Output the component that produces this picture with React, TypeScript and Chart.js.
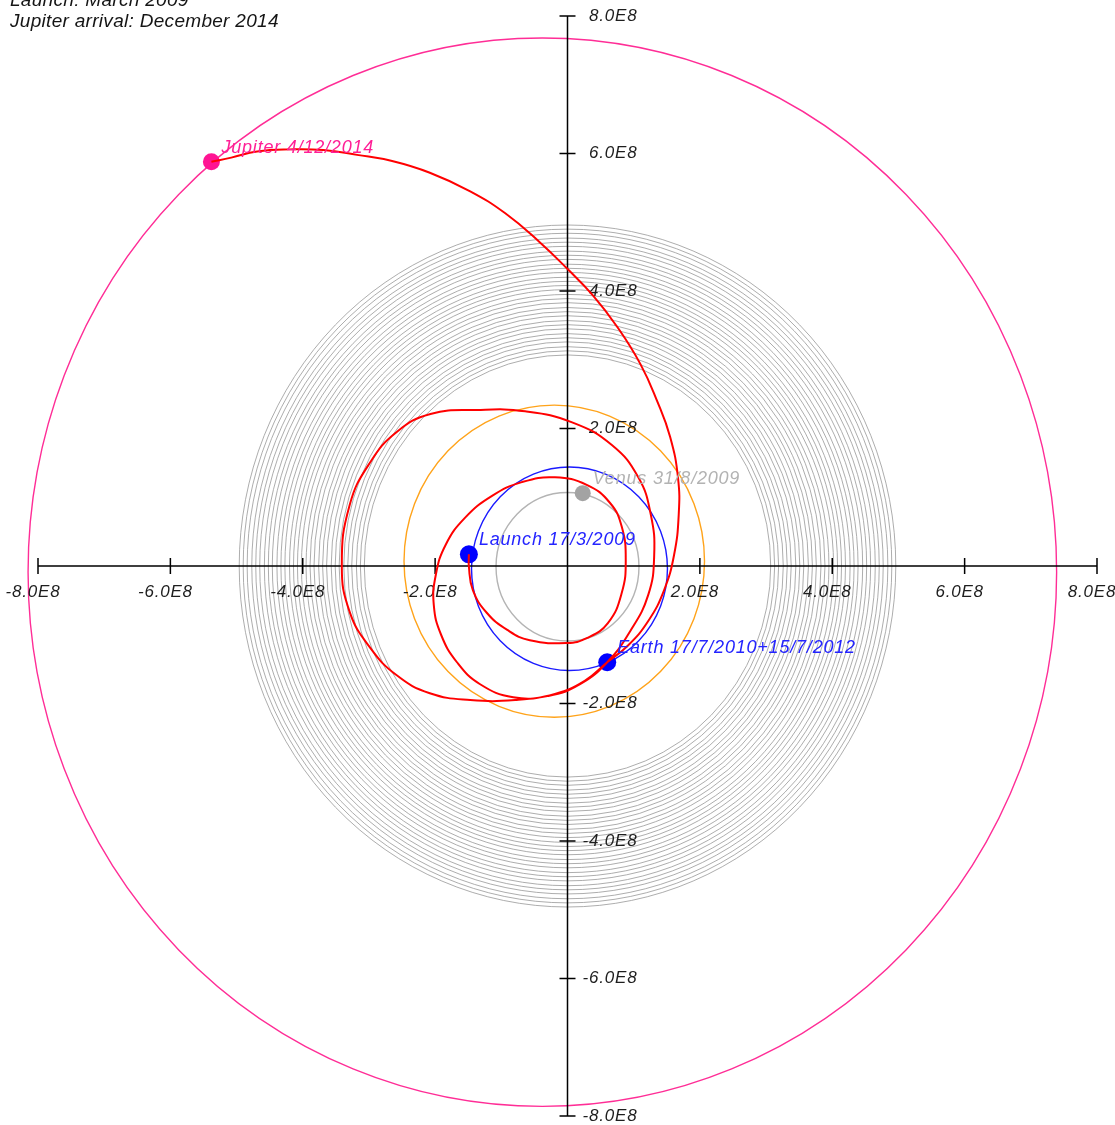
import React, { useEffect, useRef } from "react";
import { Chart, registerables } from "chart.js";

Chart.register(...registerables);

// Heliocentric positions in the ecliptic plane, units of 1e8 km.

// Spacecraft path: launch -> Venus -> Earth (2010) -> 2-year loop -> Earth (2012) -> Jupiter
const trajectoryX = [
  // launch to Venus
  -1.49, -1.49, -1.43, -1.22, -0.91, -0.57, -0.01, 0.29, 0.61, 0.82, 0.88, 0.82, 0.64, 0.29,
  // Venus to Earth
  -0.19, -0.69, -1.14, -1.55, -1.84, -1.99, -2.02, -1.91, -1.67, -1.32, -0.82, -0.29, 0.19, 0.6,
  // two-year resonant loop
  0.94, 1.22, 1.31, 1.26, 1.07, 0.67, 0.07, -0.64, -1.37, -2.07, -2.58, -2.98, -3.29, -3.41,
  -3.29, -2.98, -2.58, -2.08, -1.47, -0.79, -0.19, 0.26, 0.6,
  // Earth to Jupiter
  0.91, 1.22, 1.46, 1.61, 1.68, 1.67, 1.55, 1.35, 1.1, 0.75, 0.39, -0.01, -0.42, -0.94, -1.47,
  -2.08, -2.65, -3.18, -3.69, -4.19, -4.69, -5.08, -5.38,
];
const trajectoryY = [
  0.17, -0.01, -0.35, -0.68, -0.93, -1.08, -1.12, -1.05, -0.83, -0.39, 0.09, 0.57, 0.92, 1.18,
  1.29, 1.22, 1.02, 0.7, 0.31, -0.13, -0.57, -1.0, -1.4, -1.72, -1.91, -1.89, -1.72, -1.4,
  -0.96, -0.42, 0.16, 0.74, 1.29, 1.76, 2.09, 2.25, 2.27, 2.21, 1.95, 1.51, 0.89, 0.01,
  -0.67, -1.19, -1.59, -1.85, -1.95, -1.95, -1.86, -1.67, -1.4,
  -1.16, -0.8, -0.35, 0.16, 0.74, 1.28, 1.88, 2.41, 2.94, 3.48, 3.93, 4.33, 4.71, 5.13, 5.45,
  5.72, 5.89, 5.98, 6.05, 6.06, 6.03, 5.94, 5.88,
];

// Mission events
const eventNames = ["Launch 17/3/2009", "Venus 31/8/2009", "Earth 17/7/2010+15/7/2012", "Jupiter 4/12/2014"];
const eventX = [-1.49, 0.23, 0.6, -5.38];
const eventY = [0.17, 1.06, -1.4, 5.88];
const eventColors = ["#0000ff", "#a3a3a3", "#0000ff", "#ff1493"];
const eventLabelColors = ["#2424ff", "#b3b3b3", "#2424ff", "#ff1f96"];
const eventDotRadius = [9, 8, 9, 8.5];

// Planetary orbits
const orbitNames = ["Venus", "Earth", "Mars", "Jupiter"];
const orbitCenterX = [0, 0.03, -0.2, -0.38];
const orbitCenterY = [-0.01, -0.04, 0.07, -0.09];
const orbitRadius = [1.08, 1.48, 2.27, 7.77];
const orbitColors = ["#b4b4b4", "#1a1aff", "#ffa31a", "#ff2d96"];

// Asteroid belt rings
const beltRadii = [
  3.07, 3.13, 3.19, 3.26, 3.32, 3.38, 3.45, 3.51, 3.57, 3.64, 3.7, 3.76, 3.83, 3.89, 3.95, 4.02,
  4.08, 4.14, 4.2, 4.27, 4.33, 4.39, 4.46, 4.52, 4.58, 4.65, 4.71, 4.77, 4.84, 4.9, 4.96,
];

// Axes
const axisMin = -8;
const axisMax = 8;
const tickValues = [-8, -6, -4, -2, 2, 4, 6, 8];
const tickLabels = ["-8.0E8", "-6.0E8", "-4.0E8", "-2.0E8", "2.0E8", "4.0E8", "6.0E8", "8.0E8"];

const titleLines = ["Launch: March 2009", "Jupiter arrival: December 2014"];

const solarSystemPlugin = {
  id: "solarSystem",
  beforeDatasetsDraw(chart: any) {
    const { ctx } = chart;
    const xs = chart.scales.x;
    const ys = chart.scales.y;
    const px = (v: number) => xs.getPixelForValue(v);
    const py = (v: number) => ys.getPixelForValue(v);
    ctx.save();

    // asteroid belt
    ctx.strokeStyle = "rgba(145,145,145,0.75)";
    ctx.lineWidth = 1;
    for (const r of beltRadii) {
      ctx.beginPath();
      ctx.ellipse(px(0), py(0), px(r) - px(0), py(0) - py(r), 0, 0, Math.PI * 2);
      ctx.stroke();
    }

    // planetary orbits
    ctx.lineWidth = 1.4;
    orbitNames.forEach((_, i) => {
      const cx = px(orbitCenterX[i]);
      const cy = py(orbitCenterY[i]);
      const rx = px(orbitCenterX[i] + orbitRadius[i]) - cx;
      const ry = cy - py(orbitCenterY[i] + orbitRadius[i]);
      ctx.strokeStyle = orbitColors[i];
      ctx.beginPath();
      ctx.ellipse(cx, cy, rx, ry, 0, 0, Math.PI * 2);
      ctx.stroke();
    });

    // axes crossing at the Sun
    const x0 = px(0);
    const y0 = py(0);
    ctx.strokeStyle = "#000";
    ctx.lineWidth = 1.5;
    ctx.beginPath();
    ctx.moveTo(px(axisMin), y0);
    ctx.lineTo(px(axisMax), y0);
    ctx.moveTo(x0, py(axisMax));
    ctx.lineTo(x0, py(axisMin));
    for (const t of tickValues) {
      ctx.moveTo(px(t), y0 - 8);
      ctx.lineTo(px(t), y0 + 8);
      ctx.moveTo(x0 - 8, py(t));
      ctx.lineTo(x0 + 8, py(t));
    }
    ctx.stroke();

    ctx.font = "italic 17px 'Liberation Sans', Arial, sans-serif";
    (ctx as any).letterSpacing = "0.8px";
    ctx.fillStyle = "#1e1e1e";
    ctx.textBaseline = "middle";
    tickValues.forEach((t, i) => {
      ctx.textAlign = "center";
      ctx.fillText(tickLabels[i], px(t) - 5, y0 + 26);
      ctx.textAlign = "right";
      ctx.fillText(tickLabels[i], x0 + 70, py(t));
    });
    ctx.restore();
  },
  afterDatasetsDraw(chart: any) {
    const { ctx } = chart;
    const xs = chart.scales.x;
    const ys = chart.scales.y;
    ctx.save();
    ctx.font = "italic 18px 'Liberation Sans', Arial, sans-serif";
    (ctx as any).letterSpacing = "0.8px";
    ctx.textAlign = "left";
    ctx.textBaseline = "alphabetic";
    eventNames.forEach((name, i) => {
      ctx.fillStyle = eventLabelColors[i];
      ctx.fillText(name, xs.getPixelForValue(eventX[i]) + 10, ys.getPixelForValue(eventY[i]) - 9);
    });

    ctx.font = "italic 19px 'Liberation Sans', Arial, sans-serif";
    (ctx as any).letterSpacing = "0.3px";
    ctx.fillStyle = "#151515";
    titleLines.forEach((line, i) => {
      ctx.fillText(line, 10, 6 + i * 21);
    });
    ctx.restore();
  },
};

export default function App() {
  const canvasRef = useRef<HTMLCanvasElement | null>(null);

  useEffect(() => {
    const canvas = canvasRef.current;
    if (!canvas) return;
    const chart = new Chart(canvas, {
      type: "line",
      data: {
        datasets: [
          {
            label: "Trajectory",
            data: trajectoryX.map((x, i) => ({ x, y: trajectoryY[i] })),
            borderColor: "#ff0000",
            borderWidth: 2,
            pointRadius: 0,
            tension: 0.45,
            fill: false,
          },
          {
            label: "Events",
            data: eventX.map((x, i) => ({ x, y: eventY[i] })),
            showLine: false,
            pointRadius: eventDotRadius,
            pointBorderWidth: 0,
            pointBackgroundColor: eventColors,
            pointBorderColor: eventColors,
          },
        ],
      },
      options: {
        responsive: false,
        animation: false,
        events: [],
        clip: false,
        layout: { padding: { left: 38, right: 18, top: 16, bottom: 9 } },
        scales: {
          x: { type: "linear", min: axisMin, max: axisMax, display: false },
          y: { type: "linear", min: axisMin, max: axisMax, display: false },
        },
        plugins: {
          legend: { display: false },
          tooltip: { enabled: false },
        },
      } as any,
      plugins: [solarSystemPlugin],
    });
    return () => chart.destroy();
  }, []);

  return (
    <div style={{ position: "absolute", left: 0, top: 0, width: 1115, height: 1125, background: "#fff" }}>
      <canvas ref={canvasRef} width={1115} height={1125} style={{ display: "block" }} />
    </div>
  );
}
